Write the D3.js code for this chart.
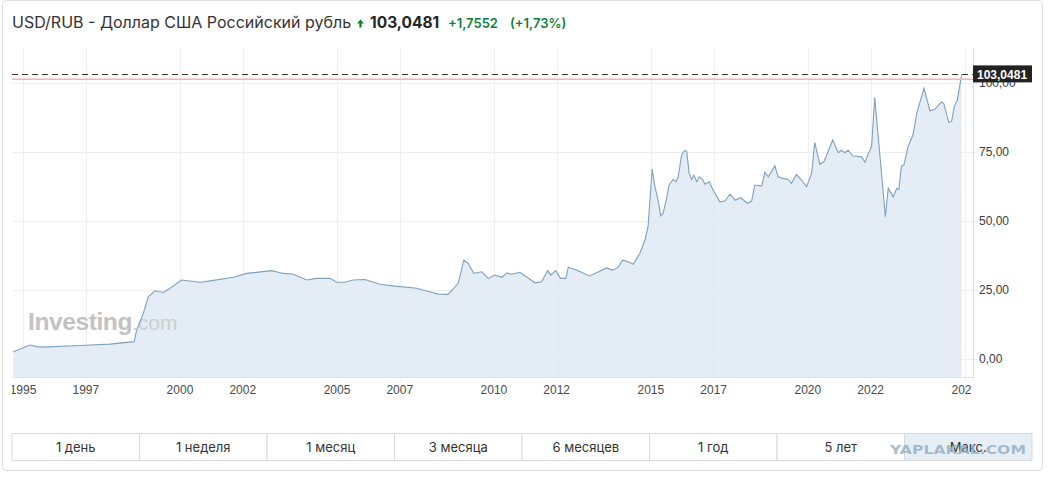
<!DOCTYPE html>
<html>
<head>
<meta charset="utf-8">
<script src="https://cdn.jsdelivr.net/npm/d3@7"></script>
<style>
body{margin:0;background:#fff;}
svg{display:block;}
</style>
</head>
<body>
<div id="chart"></div>
<script>
// USD/RUB, decimal years
var years = [1994.69,1995.22,1995.44,1995.64,1996.82,1997.77,1998.54,1998.62,1998.83,1998.99,
1999.20,1999.47,1999.68,2000.05,2000.64,2000.96,2001.70,2002.12,2002.92,2003.29,
2003.61,2004.04,2004.35,2004.78,2004.99,2005.25,2005.52,2005.89,2006.37,2006.85,
2007.54,2007.86,2008.23,2008.54,2008.86,2009.04,2009.18,2009.36,2009.61,2009.82,
2010.03,2010.25,2010.42,2010.56,2010.83,2011.31,2011.52,2011.71,2011.81,2011.97,
2012.12,2012.29,2012.37,2012.63,2013.04,2013.27,2013.59,2013.78,2013.94,2014.10,
2014.28,2014.44,2014.65,2014.81,2014.91,2015.04,2015.13,2015.23,2015.31,2015.39,
2015.50,2015.58,2015.71,2015.80,2015.87,2015.98,2016.06,2016.14,2016.22,2016.30,
2016.37,2016.46,2016.54,2016.65,2016.72,2016.86,2016.98,2017.20,2017.36,2017.52,
2017.68,2017.86,2018.07,2018.21,2018.31,2018.53,2018.63,2018.74,2018.95,2019.05,
2019.21,2019.37,2019.48,2019.64,2019.80,2019.96,2020.12,2020.22,2020.38,2020.51,
2020.62,2020.79,2020.97,2021.07,2021.18,2021.28,2021.44,2021.71,2021.82,2021.92,
2022.03,2022.13,2022.47,2022.56,2022.72,2022.83,2022.90,2022.98,2023.06,2023.19,
2023.35,2023.48,2023.70,2023.89,2024.04,2024.26,2024.33,2024.49,2024.58,2024.66,
2024.76,2024.90];
var rates = [2.6,5.1,4.5,4.3,4.9,5.4,6.3,10.5,16.5,22.5,
24.7,24.1,25.6,28.6,27.8,28.3,29.6,31.0,32.0,31.0,
30.7,28.6,29.2,29.2,27.8,27.8,28.6,28.8,27.1,26.4,
25.6,24.6,23.5,23.4,27.4,35.8,34.6,31.0,31.6,29.2,
30.4,29.6,31.2,30.7,31.4,27.6,28.0,32.0,30.4,32.0,
29.2,29.2,33.2,32.2,30.1,31.2,33.0,32.2,33.0,35.8,
35.2,34.3,38.3,43.1,47.9,68.8,62.4,57.5,51.8,52.7,
58.2,63.0,65.1,64.2,66.0,73.8,75.4,75.3,67.2,65.0,
66.6,64.2,66.0,65.0,63.3,64.2,61.2,56.9,57.2,59.7,
57.5,58.4,56.4,57.2,63.0,62.6,67.6,66.0,69.9,66.0,
65.4,65.0,63.6,66.8,64.8,62.4,67.2,78.4,70.5,71.4,
74.4,79.3,74.7,75.6,74.7,75.6,73.5,73.2,71.2,74.2,
76.8,94.7,51.5,61.8,58.7,61.8,61.4,69.9,70.2,76.8,
81.1,89.5,98.0,89.9,90.4,93.1,92.5,85.7,86.1,91.3,
93.7,103.0481];

var lastPrice = 103.0481;
var prevClose = 101.2929;
var change = "+1,7552";
var changePct = "(+1,73%)";

var xTickYears = [1995,1997,2000,2002,2005,2007,2010,2012,2015,2017,2020,2022,2025];
var yTicks = [0,25,50,75,100];
var periods = ["1 день","1 неделя","1 месяц","3 месяца","6 месяцев","1 год","5 лет","Макс."];

var width = 1052, height = 480;
var plot = {left:12, right:973, top:48, bottom:377};

function toDate(y){
  var yr = Math.floor(y);
  var a = new Date(yr,0,1), b = new Date(yr+1,0,1);
  return new Date(+a + (y-yr)*(b-a));
}

var data = years.map(function(y,i){ return {date:toDate(y), value:rates[i]}; });

var ru = d3.formatLocale({decimal:",", thousands:" ", grouping:[3], currency:["",""]});
var fmt2 = ru.format(".2f");
var fmt4 = ru.format(".4f");

var svg = d3.select("#chart").append("svg")
  .attr("width", width)
  .attr("height", height);

// outer card
svg.append("rect")
  .attr("x",2.5).attr("y",0.5)
  .attr("width",1040).attr("height",470)
  .attr("rx",4)
  .attr("fill","#fff")
  .attr("stroke","#dcdcdc");

// header
var ff = "Inter, 'Noto Sans', sans-serif";
svg.append("text")
  .attr("x",12).attr("y",28)
  .attr("font-family",ff).attr("font-size",16).attr("fill","#333")
  .text("USD/RUB - Доллар США Российский рубль");
svg.append("path")
  .attr("d","M357,23.5 L360.5,19.5 L364,23.5 L361.6,23.5 L361.6,27.5 L359.4,27.5 L359.4,23.5 Z")
  .attr("fill","#0f7f3a");
svg.append("text")
  .attr("x",370).attr("y",28)
  .attr("font-family",ff).attr("font-size",15.5).attr("font-weight",700).attr("fill","#232526")
  .text(fmt4(lastPrice));
svg.append("text")
  .attr("x",448).attr("y",28)
  .attr("font-family",ff).attr("font-size",13).attr("font-weight",600).attr("fill","#0f7f3a")
  .text(change);
svg.append("text")
  .attr("x",510).attr("y",28)
  .attr("font-family",ff).attr("font-size",13).attr("font-weight",600).attr("fill","#0f7f3a")
  .text(changePct);

var x = d3.scaleTime()
  .domain(d3.extent(data, function(d){ return d.date; }))
  .range([13.3, 961.7]);
var y = d3.scaleLinear()
  .domain([-6.5, 112.6])
  .range([plot.bottom, plot.top]);

// grid
var grid = svg.append("g");
grid.selectAll("line.v")
  .data(xTickYears)
  .enter().append("line")
  .attr("class","v")
  .attr("x1",function(d){ return Math.round(x(toDate(d)))+0.5; })
  .attr("x2",function(d){ return Math.round(x(toDate(d)))+0.5; })
  .attr("y1",plot.top).attr("y2",plot.bottom+4)
  .attr("stroke","#f0f0f0");
grid.selectAll("line.h")
  .data(yTicks)
  .enter().append("line")
  .attr("class","h")
  .attr("x1",plot.left).attr("x2",plot.right+5)
  .attr("y1",function(d){ return Math.round(y(d))+0.5; })
  .attr("y2",function(d){ return Math.round(y(d))+0.5; })
  .attr("stroke","#eeeeee");

// area + line
var area = d3.area()
  .x(function(d){ return x(d.date); })
  .y0(plot.bottom)
  .y1(function(d){ return y(d.value); });
var line = d3.line()
  .x(function(d){ return x(d.date); })
  .y(function(d){ return y(d.value); });

svg.append("path")
  .datum(data)
  .attr("d",area)
  .attr("fill","#dde8f2")
  .attr("fill-opacity",0.8);

// watermark logo
var logo = svg.append("text")
  .attr("x",28).attr("y",330)
  .attr("font-family","'Liberation Sans', Arial, sans-serif");
logo.append("tspan").attr("font-size",24.5).attr("font-weight",700).attr("fill","#c2c2c2").attr("letter-spacing",-0.4).text("Investing");
logo.append("tspan").attr("font-size",21).attr("fill","#cdcdcd").text(".com");

svg.append("path")
  .datum(data)
  .attr("d",line)
  .attr("fill","none")
  .attr("stroke","#7fa0bf")
  .attr("stroke-width",1.1);

// frame right + bottom
svg.append("line")
  .attr("x1",plot.left).attr("x2",plot.right+0.5)
  .attr("y1",plot.bottom+0.5).attr("y2",plot.bottom+0.5)
  .attr("stroke","#e3e3e3");
svg.append("line")
  .attr("x1",plot.right+0.5).attr("x2",plot.right+0.5)
  .attr("y1",plot.top).attr("y2",plot.bottom+0.5)
  .attr("stroke","#dcdcdc");

// previous close and last price lines
svg.append("line")
  .attr("x1",plot.left).attr("x2",plot.right)
  .attr("y1",y(prevClose)).attr("y2",y(prevClose))
  .attr("stroke","#f3b3b6").attr("stroke-width",1.4);
svg.append("line")
  .attr("x1",plot.left).attr("x2",plot.right)
  .attr("y1",Math.round(y(lastPrice))+0.5).attr("y2",Math.round(y(lastPrice))+0.5)
  .attr("stroke","#333").attr("stroke-dasharray","6,4");

// y axis labels
var af = "'Liberation Sans', Arial, sans-serif";
svg.append("g").selectAll("text")
  .data(yTicks)
  .enter().append("text")
  .attr("x",979)
  .attr("y",function(d){ return y(d); })
  .attr("dy","0.36em")
  .attr("font-family",af).attr("font-size",12).attr("fill","#3c3c3c")
  .text(function(d){ return fmt2(d); });

// last price tag
var ly = y(lastPrice);
svg.append("rect")
  .attr("x",plot.right).attr("y",ly-9)
  .attr("width",59).attr("height",17)
  .attr("fill","#222");
svg.append("text")
  .attr("x",plot.right+4).attr("y",ly)
  .attr("dy","0.36em")
  .attr("font-family",af).attr("font-size",12).attr("font-weight",700).attr("fill","#fff")
  .text(fmt4(lastPrice));

// x axis labels, clipped at the frame
svg.append("clipPath").attr("id","xclip")
  .append("rect").attr("x",plot.left).attr("y",plot.bottom).attr("width",plot.right-plot.left-1.5).attr("height",30);
svg.append("g")
  .attr("clip-path","url(#xclip)")
  .selectAll("text")
  .data(xTickYears)
  .enter().append("text")
  .attr("x",function(d){ return x(toDate(d)); })
  .attr("y",394)
  .attr("text-anchor","middle")
  .attr("font-family",af).attr("font-size",12).attr("fill","#4a4a4a")
  .text(function(d){ return d; });

// period buttons
var bx = d3.scaleBand().domain(periods).range([12,1032]);
var btn = svg.append("g").selectAll("g")
  .data(periods)
  .enter().append("g")
  .attr("transform",function(d){ return "translate("+bx(d)+",433.5)"; });
btn.append("rect")
  .attr("width",bx.bandwidth()).attr("height",27)
  .attr("fill",function(d,i){ return i==periods.length-1 ? "#e7eff6" : "#fff"; })
  .attr("stroke","#d9d9d9");
btn.append("text")
  .attr("x",bx.bandwidth()/2).attr("y",14)
  .attr("dy","0.36em")
  .attr("text-anchor","middle")
  .attr("font-family",ff).attr("font-size",13).attr("fill","#333")
  .text(function(d){ return d; });

// site watermark over the last button
svg.append("text")
  .attr("x",890).attr("y",454)
  .attr("textLength",136).attr("lengthAdjust","spacingAndGlyphs")
  .attr("font-family","'DejaVu Sans', sans-serif").attr("font-size",13).attr("font-weight",700)
  .attr("fill","#98b0c8").attr("fill-opacity",0.85)
  .text("YAPLAKAL.COM");
</script>
</body>
</html>
